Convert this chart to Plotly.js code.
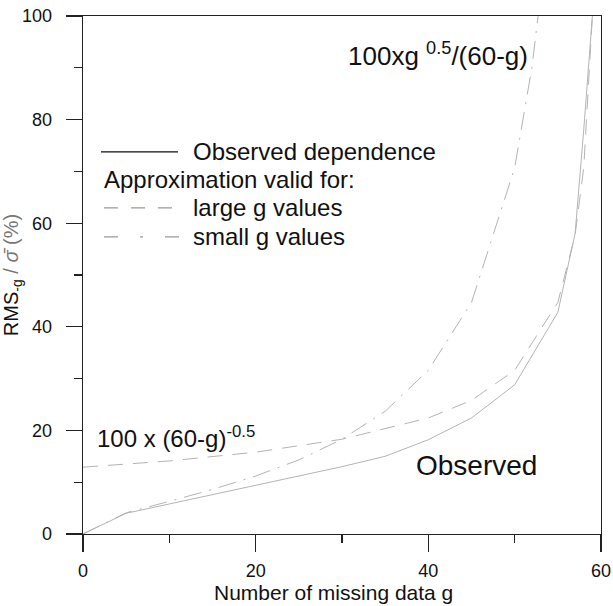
<!DOCTYPE html>
<html>
<head>
<meta charset="utf-8">
<script src="https://cdn.plot.ly/plotly-3.0.1.min.js"></script>
<style>html,body{margin:0;padding:0;background:#fff;}#chart{width:613px;height:606px;}</style>
</head>
<body>
<div id="chart"></div>
<script>
// Observed dependence
const gObserved = [0, 5, 10, 15, 20, 25, 30, 35, 40, 45, 50, 55, 57, 58, 59];
const rmsObserved = [0, 4, 5.8, 7.6, 9.3, 11.1, 13, 15, 18.2, 22.4, 28.8, 42.8, 58, 78, 100];
// Approximation valid for large g values: 100x(60-g)^-0.5
const gLarge = [0, 10, 20, 30, 40, 45, 50, 55, 57, 58, 59];
const rmsLarge = [12.9, 14.1, 15.8, 18.3, 22.4, 25.8, 31.6, 44.7, 57.7, 70.7, 100];
// Approximation valid for small g values: 100xg^0.5/(60-g)
const gSmall = [0, 5, 10, 15, 20, 25, 30, 35, 40, 45, 50, 52, 53];
const rmsSmall = [0, 4.1, 6.3, 8.6, 11.2, 14.3, 18.3, 23.7, 31.6, 44.7, 70.7, 90.1, 104];

const xTicks = [0, 20, 40, 60];
const yTicks = [0, 20, 40, 60, 80, 100];

const FONT = '"Liberation Sans", Arial, Helvetica, sans-serif';
const curveColor = '#b4b4b4';

const traces = [
  {x: gObserved, y: rmsObserved, mode: 'lines', name: 'Observed dependence',
   line: {color: curveColor, width: 1}},
  {x: gLarge, y: rmsLarge, mode: 'lines', name: 'large g values',
   line: {color: curveColor, width: 1, dash: '15px,10px'}},
  {x: gSmall, y: rmsSmall, mode: 'lines', name: 'small g values',
   line: {color: curveColor, width: 1, dash: '18px,8px,2px,8px'}}
];

// paper coords helpers for legend decoration (plot area 83..601 x, 16..534 y)
function px(p) { return (p - 83) / 518; }
function py(p) { return (534.3 - p) / 518.3; }

const legendFont = {family: FONT, size: 24, color: '#111'};

const layout = {
  width: 613, height: 606,
  margin: {l: 83, r: 12, t: 16, b: 72},
  paper_bgcolor: '#fff', plot_bgcolor: '#fff',
  showlegend: false,
  font: {family: FONT, color: '#111'},
  xaxis: {
    range: [0, 60], tickvals: xTicks, ticktext: xTicks.map(String),
    showgrid: false, zeroline: false, showline: true, mirror: true,
    linecolor: '#222', linewidth: 1.3,
    ticks: 'outside', ticklen: 17, tickwidth: 1.3, tickcolor: '#222',
    minor: {dtick: 10, tick0: 0, ticks: 'outside', ticklen: 8, tickwidth: 1.3, tickcolor: '#222', showgrid: false},
    tickfont: {family: FONT, size: 18, color: '#111'},
    ticklabelstandoff: 3,
    title: {text: '', font: {family: FONT, size: 21, color: '#111'}}
  },
  yaxis: {
    range: [0, 100], tickvals: yTicks, ticktext: yTicks.map(String),
    showgrid: false, zeroline: false, showline: true, mirror: true,
    linecolor: '#222', linewidth: 1.3,
    ticks: 'outside', ticklen: 16, tickwidth: 1.3, tickcolor: '#222',
    minor: {dtick: 10, tick0: 0, ticks: 'outside', ticklen: 8, tickwidth: 1.3, tickcolor: '#222', showgrid: false},
    tickfont: {family: FONT, size: 18, color: '#111'},
    ticklabelstandoff: 10,
    title: {text: 'RMS<sub>-g</sub> <span style="color:#777">/ <i>σ̄</i> (%)</span>', font: {family: FONT, size: 20, color: '#111'}, standoff: 2}
  },
  shapes: [
    {type: 'line', xref: 'paper', yref: 'paper', x0: px(101), x1: px(178), y0: py(152), y1: py(152),
     line: {color: '#111', width: 1.2}},
    {type: 'line', xref: 'paper', yref: 'paper', x0: px(104), x1: px(178), y0: py(208), y1: py(208),
     line: {color: '#999', width: 1.2, dash: '14px,13px'}},
    {type: 'line', xref: 'paper', yref: 'paper', x0: px(104), x1: px(180), y0: py(237), y1: py(237),
     line: {color: '#999', width: 1.2, dash: '14px,22px,3px,22px'}}
  ],
  annotations: [
    {xref: 'paper', yref: 'paper', x: 0.5 - 9 / 518, y: 0, yshift: -58, xanchor: 'center', yanchor: 'middle',
     text: 'Number of missing data g', showarrow: false, font: {family: FONT, size: 21, color: '#111'}},
    {xref: 'paper', yref: 'paper', x: px(191), y: py(152), xanchor: 'left', yanchor: 'middle',
     text: 'Observed dependence', showarrow: false, font: legendFont},
    {xref: 'paper', yref: 'paper', x: px(102), y: py(180), xanchor: 'left', yanchor: 'middle',
     text: 'Approximation valid for:', showarrow: false, font: legendFont},
    {xref: 'paper', yref: 'paper', x: px(191), y: py(208), xanchor: 'left', yanchor: 'middle',
     text: 'large g values', showarrow: false, font: legendFont},
    {xref: 'paper', yref: 'paper', x: px(191), y: py(237), xanchor: 'left', yanchor: 'middle',
     text: 'small g values', showarrow: false, font: legendFont},
    {xref: 'paper', yref: 'paper', x: px(346), y: py(55), xanchor: 'left', yanchor: 'middle',
     text: '100xg <sup>0.5</sup>/(60-g)', showarrow: false, font: {family: FONT, size: 26, color: '#111'}},
    {xref: 'paper', yref: 'paper', x: px(95), y: py(437), xanchor: 'left', yanchor: 'middle',
     text: '100 x (60-g)<sup>-0.5</sup>', showarrow: false, font: {family: FONT, size: 24, color: '#111'}},
    {xref: 'paper', yref: 'paper', x: px(414), y: py(466), xanchor: 'left', yanchor: 'middle',
     text: 'Observed', showarrow: false, font: {family: FONT, size: 28, color: '#111'}}
  ]
};

Plotly.newPlot('chart', traces, layout, {displayModeBar: false, staticPlot: true});
</script>
</body>
</html>
